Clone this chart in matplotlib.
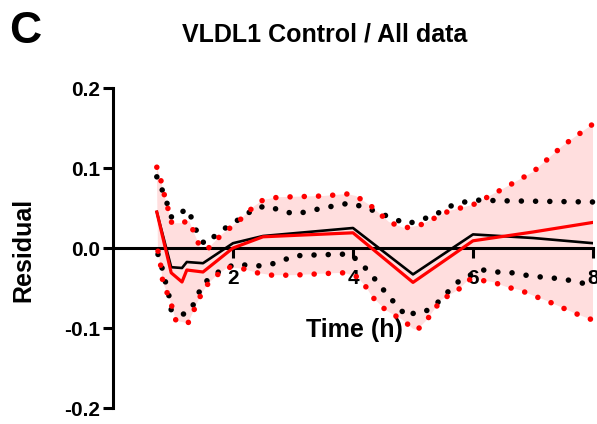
import matplotlib
matplotlib.use("Agg")
import matplotlib.pyplot as plt
import numpy as np

plt.rcParams["font.family"] = ["Liberation Sans", "DejaVu Sans"]
plt.rcParams["font.weight"] = "bold"

# mean residual curves
mean_t = [0.73, 0.97, 1.15, 1.23, 1.5, 2.0, 2.5, 4.0, 5.0, 6.0, 7.0, 8.0]
control_mean = [0.045, -0.024, -0.025, -0.0175, -0.019, 0.006, 0.015, 0.025,
                -0.033, 0.017, 0.0125, 0.006]
all_mean = [0.045, -0.031, -0.0425, -0.0275, -0.030, 0.0, 0.014, 0.019,
            -0.043, 0.009, 0.02, 0.032]

# red (all data) band
red_up_t = [0.73, 0.8, 0.85, 0.98, 1.12, 1.27, 1.45, 1.58, 1.8, 2.1, 2.35, 2.5,
            2.75, 3.0, 3.5, 3.9, 4.05, 4.3, 4.6, 4.85, 5.1, 5.35, 5.6, 6.0,
            6.5, 7.0, 7.5, 8.0]
red_up_v = [0.101, 0.084, 0.068, 0.031, 0.031, 0.034, 0.001, -0.001, 0.016,
            0.034, 0.052, 0.06, 0.0635, 0.064, 0.065, 0.0675, 0.065, 0.0525,
            0.0325, 0.025, 0.028, 0.037, 0.0463, 0.054, 0.074, 0.095, 0.128,
            0.155]
red_lo_t = [0.75, 0.8, 0.83, 0.95, 1.05, 1.25, 1.35, 1.45, 1.57, 1.73, 1.92,
            2.17, 2.4, 2.65, 3.0, 3.5, 3.85, 4.07, 4.22, 4.32, 4.55, 4.83, 5.0,
            5.07, 5.23, 5.47, 5.75, 5.92, 6.0, 6.33, 6.57, 6.78, 7.02, 7.23,
            7.47, 7.68, 7.9, 8.0]
red_lo_v = [-0.004, -0.024, -0.0425, -0.065, -0.091, -0.094, -0.0775, -0.061,
            -0.046, -0.034, -0.024, -0.026, -0.031, -0.034, -0.034, -0.032,
            -0.031, -0.036, -0.049, -0.061, -0.078, -0.09, -0.101, -0.1025,
            -0.09, -0.065, -0.0525, -0.04, -0.039, -0.0425, -0.049, -0.0525,
            -0.06, -0.066, -0.074, -0.081, -0.0875, -0.09]

# black (control) band
blk_up_t = [0.73, 0.82, 0.9, 0.98, 1.12, 1.25, 1.33, 1.43, 1.53, 1.78, 1.95,
            2.17, 2.37, 2.58, 2.82, 3.05, 3.5, 3.93, 4.2, 4.43, 4.9, 5.33,
            5.67, 6.0, 6.5, 8.0]
blk_up_v = [0.089, 0.0725, 0.056, 0.0375, 0.044, 0.049, 0.033, 0.014, 0.005,
            0.02, 0.029, 0.039, 0.05, 0.0525, 0.046, 0.0425, 0.05, 0.056,
            0.051, 0.044, 0.03, 0.04, 0.054, 0.06, 0.059, 0.0575]
blk_lo_t = [0.75, 0.8, 0.85, 0.92, 0.97, 1.12, 1.27, 1.4, 1.48, 1.65, 1.83,
            2.07, 2.32, 2.53, 2.78, 3.0, 3.23, 3.7, 3.95, 4.13, 4.28, 4.43,
            4.58, 4.9, 5.07, 5.25, 5.42, 5.58, 5.75, 5.95, 6.17, 6.4, 6.65,
            6.88, 7.1, 7.33, 7.58, 7.83, 8.0]
blk_lo_v = [-0.008, -0.019, -0.036, -0.054, -0.0775, -0.084, -0.08, -0.0625,
            -0.046, -0.036, -0.026, -0.02, -0.0225, -0.022, -0.0175, -0.01,
            -0.009, -0.008, -0.0075, -0.019, -0.031, -0.045, -0.059, -0.086,
            -0.079, -0.078, -0.0675, -0.055, -0.0425, -0.034, -0.0275, -0.03,
            -0.031, -0.034, -0.036, -0.0375, -0.04, -0.044, -0.046]

xticks = [2, 4, 6, 8]
yticks = [-0.2, -0.1, 0.0, 0.1, 0.2]

fig = plt.figure(figsize=(5.97, 4.24), dpi=100)
ax = fig.add_axes([113 / 597, 1 - 408 / 424, 480 / 597, 320 / 424])

ax.fill(np.concatenate([red_up_t, red_lo_t[::-1]]),
        np.concatenate([red_up_v, red_lo_v[::-1]]),
        color="#ffdede", lw=0, zorder=1)

dot = dict(lw=4.0, linestyle=(0, (0.01, 2.55)), dash_capstyle="round",
           clip_on=False)
ax.plot(blk_up_t, blk_up_v, color="black", zorder=3, **dot)
ax.plot(blk_lo_t, blk_lo_v, color="black", zorder=3, **dot)
ax.plot(red_up_t, red_up_v, color="#ff0000", zorder=3, **dot)
ax.plot(red_lo_t, red_lo_v, color="#ff0000", zorder=3, **dot)

ax.plot(mean_t, control_mean, color="black", lw=1.9, zorder=4)
ax.plot(mean_t, all_mean, color="#ff0000", lw=2.3, zorder=5)

ax.set_xlim(0, 8)
ax.set_ylim(-0.2, 0.2)
ax.spines["top"].set_visible(False)
ax.spines["right"].set_visible(False)
ax.spines["bottom"].set_position(("data", 0))
ax.spines["bottom"].set_zorder(2)
for s in ("left", "bottom"):
    ax.spines[s].set_linewidth(2.2)
ax.patch.set_visible(False)

ax.set_xticks(xticks)
ax.set_xticklabels([str(x) for x in xticks])
ax.set_yticks(yticks)
ax.set_yticklabels([f"{y:.1f}" for y in yticks])
ax.tick_params(axis="x", direction="out", length=7, width=2.2, pad=8,
               labelsize=15)
ax.tick_params(axis="y", direction="out", length=7, width=2.2, pad=2,
               labelsize=15)

ax.set_xlabel("Time (h)", fontsize=18, fontweight="bold")
ax.xaxis.set_label_coords((354 - 113) / 480, (408 - 318) / 320)
ax.set_ylabel("Residual", fontsize=18, fontweight="bold")
ax.yaxis.set_label_coords((35 - 113) / 480, (408 - 250) / 320)

fig.text(325 / 597, 1 - 42 / 424, "VLDL1 Control / All data", fontsize=18,
         fontweight="bold", ha="center", va="baseline")
fig.text(9 / 597, 1 - 43 / 424, "C", fontsize=32, fontweight="bold",
         ha="left", va="baseline")

fig.savefig("out.png", dpi=100)
